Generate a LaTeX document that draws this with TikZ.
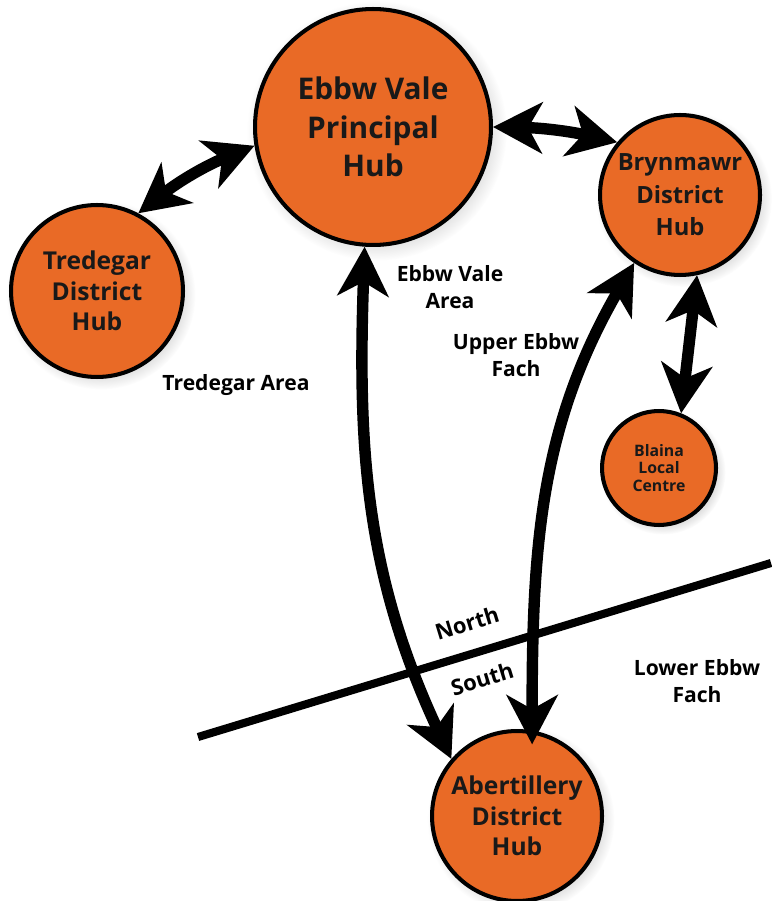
\documentclass[tikz,border=0pt]{standalone}
\usepackage{fontspec}
\setmainfont{Open Sans}
\usepackage{tikz}
\usetikzlibrary{arrows.meta, shadows}
\definecolor{huborange}{RGB}{233,106,38}

\begin{document}
\begin{tikzpicture}[x=0.02cm, y=-0.02cm,
    hub/.style={circle, draw=black, line width=2.3pt, fill=huborange, text=black!90, inner sep=0pt, align=center,
        circular drop shadow={opacity=0.25, shadow xshift=2pt, shadow yshift=-2pt}},
    area/.style={font=\bfseries\fontsize{12}{15.3}\selectfont, align=center},
    link/.style={line width=6.5pt, >={Stealth[length=28pt, width=29pt, inset=8pt]}, <->}]
    \useasboundingbox (0,0) rectangle (771,901);
    \node[hub, minimum size=4.72cm, font=\bfseries\fontsize{17}{21.8}\selectfont] (ebbw) at (373,127) {Ebbw Vale\\Principal\\Hub};
    \node[hub, minimum size=3.44cm, font=\bfseries\fontsize{14}{17.5}\selectfont] (tredegar) at (97,291) {Tredegar\\District\\Hub};
    \node[hub, minimum size=3.2cm, font=\bfseries\fontsize{13.5}{18.5}\selectfont] (brynmawr) at (680,195) {Brynmawr\\District\\Hub};
    \node[hub, minimum size=2.28cm, font=\bfseries\fontsize{9}{10.2}\selectfont] (blaina) at (659,468) {Blaina\\Local\\Centre};
    \node[hub, minimum size=3.4cm, font=\bfseries\fontsize{14}{17.5}\selectfont] (abertillery) at (517,816) {Abertillery\\District\\Hub};
    % north / south divide
    \coordinate (westend) at (198,737);
    \coordinate (eastend) at (771,563);
    \draw[line width=4.6pt] (westend) -- (eastend);
    \node[area] (ebbwarea) at (450,287) {Ebbw Vale\\Area};
    \node[area] (upperfach) at (516,355) {Upper Ebbw\\Fach};
    \node[area] (tredarea) at (236,385) {Tredegar Area};
    \node[area] (lowerfach) at (697,681) {Lower Ebbw\\Fach};
    \node[area, font=\bfseries\fontsize{12.5}{15}\selectfont, rotate=17, inner sep=1pt] (north) at (467,623) {North};
    \node[area, font=\bfseries\fontsize{12.5}{15}\selectfont, rotate=17, inner sep=1pt] (south) at (482,679) {South};
    % links
    \draw[link] (tredegar.62) to[bend left=8] (ebbw.189);
    \draw[link] (ebbw.0) to[bend left=6] (brynmawr.140);
    \draw[link] (ebbw.-94) to[out=-92, in=115] (abertillery.139);
    \draw[link, shorten >=-8pt] (brynmawr.236) to[out=240, in=90] (abertillery.80);
    \draw[link] (brynmawr.-78) -- (blaina.68);
\end{tikzpicture}
\end{document}
